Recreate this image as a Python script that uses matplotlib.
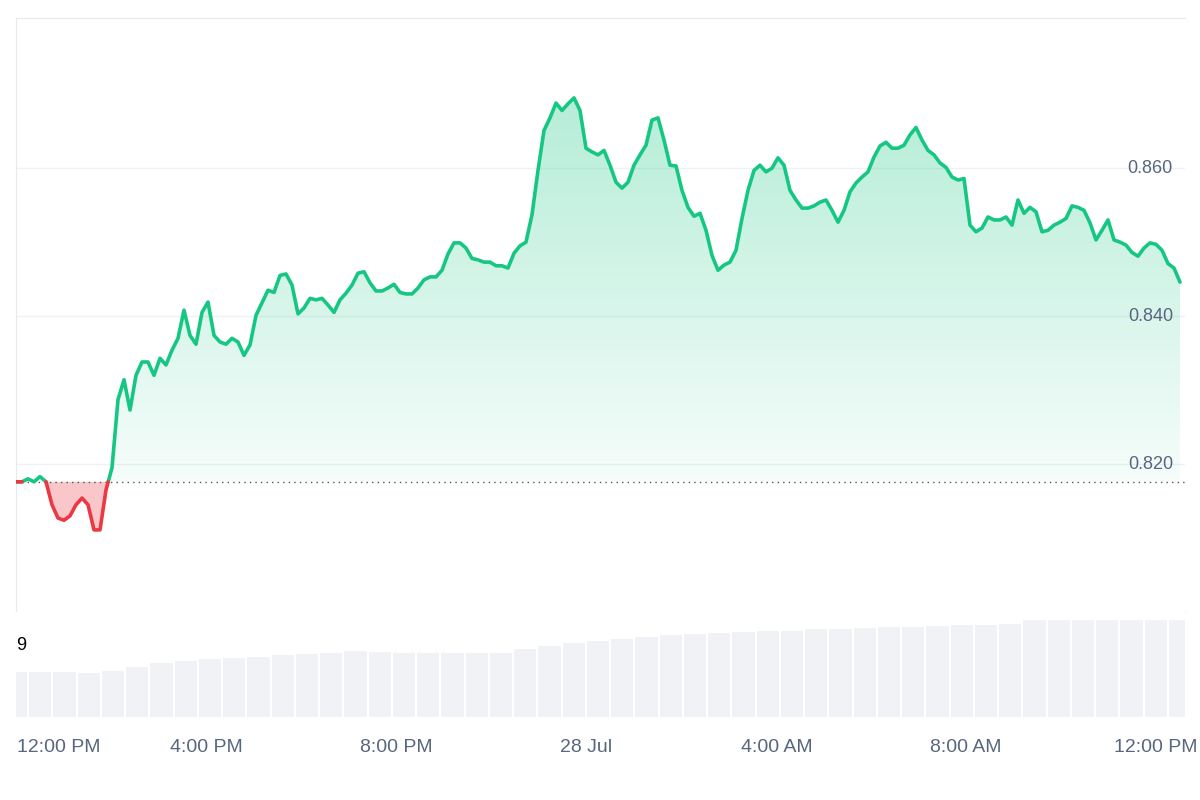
import numpy as np
import pandas as pd
import matplotlib
matplotlib.use("Agg")
import matplotlib.pyplot as plt
import matplotlib.dates as mdates
import matplotlib.transforms as mtrans
from matplotlib.colors import LinearSegmentedColormap
from matplotlib.path import Path
import matplotlib.patches as mpatches

plt.rcParams['font.family'] = ['Liberation Sans', 'DejaVu Sans']

prices = [0.8176,0.8176,0.8180,0.8176,0.8183,0.8176,0.8145,0.8127,0.8124,0.8130,0.8145,0.8154,0.8145,0.8111,0.8111,0.8165,
0.8195,0.8287,0.8314,0.8273,0.8320,0.8338,0.8338,0.8320,0.8343,0.8334,0.8354,
0.8370,0.8408,0.8374,0.8362,0.8405,0.8419,0.8374,0.8365,0.8362,0.8370,0.8365,0.8347,0.8361,0.8401,0.8418,0.8435,0.8432,
0.8455,0.8457,0.8442,0.8403,0.8411,0.8424,0.8422,0.8424,0.8415,0.8405,0.8422,0.8431,0.8442,0.8458,0.8460,0.8445,0.8434,
0.8434,0.8438,0.8443,0.8432,0.8430,0.8430,0.8438,0.8449,0.8453,0.8453,0.8462,0.8484,0.8499,0.8499,0.8492,0.8478,0.8476,
0.8473,0.8473,0.8468,0.8468,0.8465,0.8485,0.8495,0.8500,0.8537,0.8597,0.8651,0.8668,0.8688,0.8678,0.8687,0.8695,0.8678,
0.8627,0.8622,0.8618,0.8624,0.8604,0.8581,0.8573,0.8581,0.8604,0.8618,0.8631,0.8665,0.8668,0.8638,0.8604,0.8603,0.8570,
0.8547,0.8535,0.8539,0.8516,0.8482,0.8462,0.8469,0.8473,0.8489,0.8532,0.8570,0.8597,0.8604,0.8595,0.8600,0.8614,0.8604,
0.8570,0.8557,0.8546,0.8546,0.8549,0.8554,0.8557,0.8543,0.8527,0.8543,0.8568,0.8580,0.8588,0.8595,0.8615,0.8630,0.8635,
0.8627,0.8627,0.8631,0.8645,0.8655,0.8638,0.8624,0.8618,0.8607,0.8601,0.8588,0.8584,0.8586,0.8523,0.8514,0.8519,0.8534,
0.8530,0.8530,0.8534,0.8523,0.8557,0.8539,0.8547,0.8541,0.8514,0.8516,0.8523,0.8527,0.8532,0.8549,0.8547,0.8543,0.8526,
0.8503,0.8516,0.8530,0.8503,0.8500,0.8496,0.8486,0.8481,0.8492,0.8499,0.8497,0.8489,0.8471,0.8465,0.8446]

volumes = [45,45,45,44,46,50,54,56,58,59,60,62,63,64,66,65,64,64,64,64,64,68,71,74,76,78,80,82,83,84,
           85,86,86,88,88,89,90,90,91,92,92,93,97,97,97,97,97,97,97]

baseline = 0.8176
start = pd.Timestamp("2025-07-27 11:59")
step = pd.Timedelta(seconds=455)
times = pd.date_range(start, periods=len(prices), freq=step)
t = mdates.date2num(times)
p = np.array(prices)
tend = t[-1]

tick_times = ["2025-07-27 12:00", "2025-07-27 16:00", "2025-07-27 20:00", "2025-07-28 00:00",
              "2025-07-28 04:00", "2025-07-28 08:00", "2025-07-28 12:00"]
tick_labels = ["12:00 PM", "4:00 PM", "8:00 PM", "28 Jul", "4:00 AM", "8:00 AM", "12:00 PM"]
ytick_vals = [0.820, 0.840, 0.860]

GREEN = "#16c784"; RED = "#ea3943"; GREY = "#58667e"

fig = plt.figure(figsize=(12, 8), dpi=100)
W, H = 1200, 800
ax = fig.add_axes([16/W, 1-612/H, (1185-16)/W, (612-18)/H])
axv = fig.add_axes([16/W, 1-717/H, (1185-16)/W, (717-612)/H])

xmin, xmax = t[0], t[0] + (1185-16)/(1180-16)*(tend-t[0])
ylo, yhi = 0.800, 0.8803
ax.set_xlim(xmin, xmax); ax.set_ylim(ylo, yhi)

tt, pp = [t[0]], [p[0]]
for i in range(1, len(p)):
    a, b = p[i-1]-baseline, p[i]-baseline
    if a*b < 0:
        f = a/(a-b)
        tt.append(t[i-1]+f*(t[i]-t[i-1])); pp.append(baseline)
    tt.append(t[i]); pp.append(p[i])
tt = np.array(tt); pp = np.array(pp)

up = np.where(pp >= baseline, pp, np.nan)
dn = np.where(pp <= baseline, pp, np.nan)

poly = ax.fill_between(tt, pp, baseline, where=pp >= baseline, interpolate=True, color="none", lw=0)
cmap = LinearSegmentedColormap.from_list("g", [(0.086,0.78,0.52,0.04), (0.086,0.78,0.52,0.32)])
grad = np.linspace(0, 1, 256).reshape(-1, 1)
im = ax.imshow(grad, cmap=cmap, aspect="auto", origin="lower",
               extent=[xmin, xmax, baseline, 0.870], zorder=1)
paths = poly.get_paths()
if paths:
    verts = np.concatenate([q.vertices for q in paths])
    codes = np.concatenate([q.codes if q.codes is not None else np.full(len(q.vertices), Path.LINETO) for q in paths])
    clip = mpatches.PathPatch(Path(verts, codes), transform=ax.transData, fc="none", ec="none")
    ax.add_patch(clip)
    im.set_clip_path(clip)
ax.fill_between(tt, pp, baseline, where=pp <= baseline, interpolate=True, color=RED, alpha=0.28, lw=0, zorder=1)

ax.plot(tt, up, color=GREEN, lw=2.6, zorder=3, solid_capstyle="round")
ax.plot(tt, dn, color=RED, lw=2.6, zorder=3, solid_capstyle="round")
ax.axhline(baseline, color="#555555", lw=1, ls=(0, (1, 3)), zorder=2)

tr = mtrans.blended_transform_factory(fig.transFigure, ax.transData)
for v in ytick_vals:
    ax.axhline(v, color="#eff2f5", lw=1, zorder=0)
    ax.text(1173/W, v, f"{v:.3f}", transform=tr, ha="right", va="center", fontsize=13, color=GREY, zorder=4)

ax.set_xticks([]); ax.set_yticks([])
for s in ["top", "left", "bottom"]:
    ax.spines[s].set_color("#e6e9ee")
ax.spines["right"].set_visible(False)

nv = len(volumes)
vt = t[0] + (tend - t[0]) * np.arange(nv) / (nv - 1)
wbar = (tend - t[0]) / (nv - 1)
axv.bar(vt, volumes, width=wbar*0.92, color="#f0f2f5", align="center", lw=0)
axv.set_ylim(0, 105)
axv.set_yticks([])
for s in ["top", "right", "left", "bottom"]:
    axv.spines[s].set_visible(False)
fig.text(16/W, 1-646/H, "9", fontsize=13, ha="left", va="center", color="black")

tk = mdates.date2num(pd.to_datetime(tick_times))
axv.set_xticks(tk)
axv.set_xticklabels(tick_labels, fontsize=14, color=GREY)
axv.tick_params(axis="x", length=0, pad=16)
labs = axv.get_xticklabels()
labs[0].set_ha("left")
axv.set_xlim(xmin, xmax)

fig.savefig("out.png", dpi=100, facecolor="white")
